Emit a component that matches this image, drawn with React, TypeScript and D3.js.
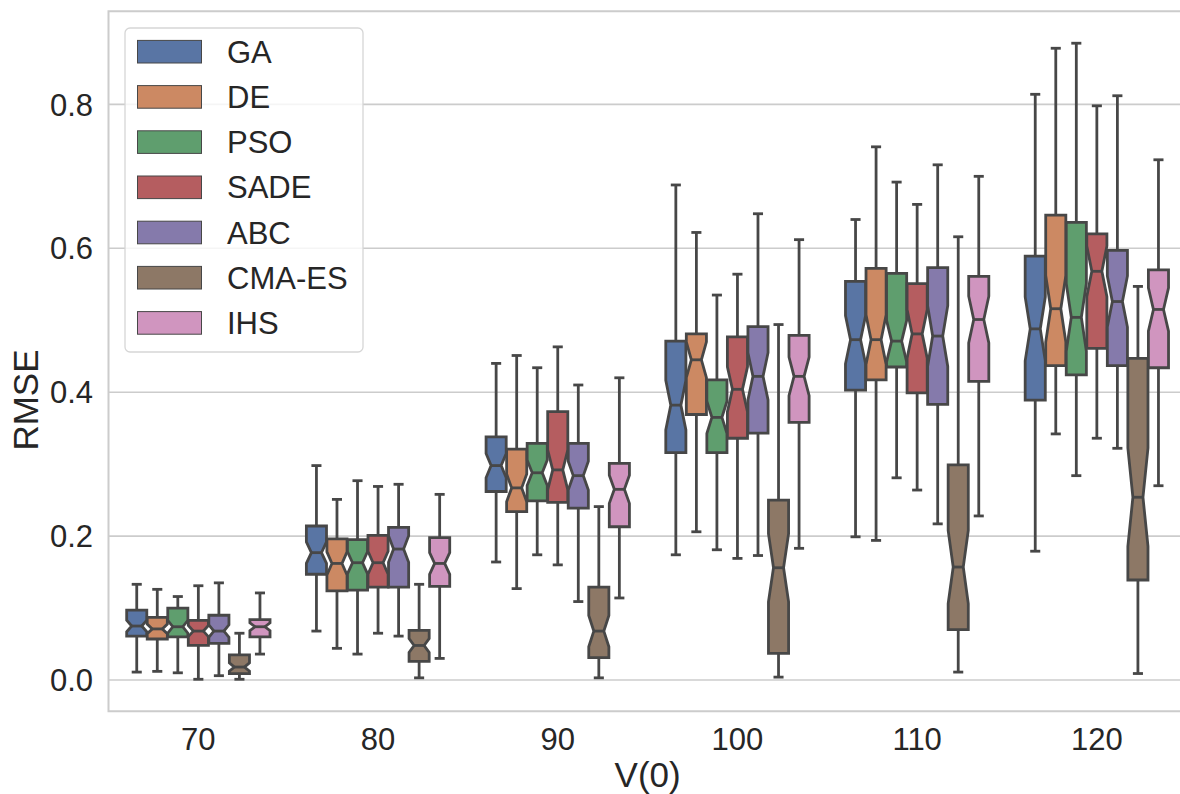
import React, { useRef, useEffect } from 'react';
import * as d3 from 'd3';

// each entry: [whisker low, q1, median, q3, whisker high], one per V(0)
const speeds = ['70', '80', '90', '100', '110', '120'];
const methods = ['GA', 'DE', 'PSO', 'SADE', 'ABC', 'CMA-ES', 'IHS'];
const colors = ['#5975a4', '#cc8963', '#5f9e6e', '#b55d60', '#857aab', '#8d7866', '#d095bf'];
const yTicks = [0, 0.2, 0.4, 0.6, 0.8];

const GA = [
  [0.011, 0.061, 0.075, 0.097, 0.133],
  [0.068, 0.147, 0.177, 0.214, 0.298],
  [0.164, 0.262, 0.298, 0.338, 0.440],
  [0.174, 0.316, 0.382, 0.471, 0.688],
  [0.199, 0.403, 0.473, 0.554, 0.640],
  [0.179, 0.389, 0.488, 0.589, 0.814],
];
const DE = [
  [0.012, 0.057, 0.071, 0.087, 0.126],
  [0.044, 0.124, 0.162, 0.196, 0.251],
  [0.127, 0.234, 0.267, 0.321, 0.451],
  [0.206, 0.369, 0.445, 0.481, 0.622],
  [0.194, 0.417, 0.473, 0.572, 0.741],
  [0.342, 0.437, 0.516, 0.646, 0.878],
];
const PSO = [
  [0.010, 0.060, 0.074, 0.100, 0.116],
  [0.036, 0.125, 0.163, 0.195, 0.277],
  [0.174, 0.249, 0.288, 0.329, 0.434],
  [0.181, 0.316, 0.365, 0.417, 0.535],
  [0.281, 0.435, 0.471, 0.565, 0.692],
  [0.284, 0.424, 0.504, 0.636, 0.885],
];
const SADE = [
  [0.001, 0.048, 0.068, 0.083, 0.131],
  [0.065, 0.129, 0.163, 0.201, 0.269],
  [0.160, 0.247, 0.292, 0.373, 0.463],
  [0.169, 0.336, 0.404, 0.477, 0.564],
  [0.264, 0.399, 0.481, 0.551, 0.661],
  [0.336, 0.461, 0.568, 0.620, 0.798],
];
const ABC = [
  [0.006, 0.051, 0.068, 0.090, 0.135],
  [0.061, 0.129, 0.182, 0.212, 0.272],
  [0.109, 0.239, 0.284, 0.329, 0.410],
  [0.173, 0.343, 0.422, 0.491, 0.648],
  [0.217, 0.383, 0.478, 0.573, 0.716],
  [0.322, 0.437, 0.526, 0.597, 0.812],
];
const CMAES = [
  [0.001, 0.009, 0.018, 0.035, 0.065],
  [0.003, 0.026, 0.048, 0.069, 0.133],
  [0.003, 0.031, 0.068, 0.129, 0.241],
  [0.004, 0.037, 0.156, 0.250, 0.494],
  [0.011, 0.070, 0.157, 0.299, 0.616],
  [0.009, 0.139, 0.254, 0.447, 0.547],
];
const IHS = [
  [0.036, 0.060, 0.074, 0.084, 0.121],
  [0.030, 0.130, 0.162, 0.198, 0.258],
  [0.114, 0.213, 0.265, 0.301, 0.420],
  [0.183, 0.358, 0.422, 0.479, 0.612],
  [0.228, 0.415, 0.501, 0.561, 0.700],
  [0.270, 0.434, 0.515, 0.570, 0.723],
];
const series = [GA, DE, PSO, SADE, ABC, CMAES, IHS];
const SAMPLES = 50; // runs per box, sets the notch size

const W = 1180;
const H = 794;
const LINE = '#474747';
const TEXT = '#262626';
const FONT = '"Liberation Sans", Arial, sans-serif';

const App = () => {
  const ref = useRef<SVGSVGElement>(null);

  useEffect(() => {
    const svg = d3.select(ref.current);
    svg.selectAll('*').remove();

    const left = 108.5, right = 1186.7, top = 11.2, bottom = 711.3;

    const x = d3.scaleBand().domain(speeds).range([left, right]).padding(0);
    const hue = d3.scaleBand()
      .domain(methods)
      .range([-0.4 * x.bandwidth(), 0.4 * x.bandwidth()]);
    const y = d3.scaleLinear().domain([-0.0435, 0.9295]).range([bottom, top]);
    const boxW = hue.bandwidth() * 0.98;

    // grid
    svg.append('g')
      .selectAll('line')
      .data(yTicks)
      .enter()
      .append('line')
      .attr('x1', left).attr('x2', right)
      .attr('y1', d => y(d)).attr('y2', d => y(d))
      .attr('stroke', '#cccccc')
      .attr('stroke-width', 1.6);

    // frame (right side falls outside the picture)
    svg.append('path')
      .attr('d', `M${right},${top}H${left}V${bottom}H${right}`)
      .attr('fill', 'none')
      .attr('stroke', '#cccccc')
      .attr('stroke-width', 2);

    // y tick labels
    svg.append('g')
      .selectAll('text')
      .data(yTicks)
      .enter()
      .append('text')
      .attr('x', 93)
      .attr('y', d => y(d))
      .attr('dy', '0.36em')
      .attr('text-anchor', 'end')
      .attr('font-family', FONT)
      .attr('font-size', 31)
      .attr('fill', TEXT)
      .text(d => d.toFixed(1));

    // x tick labels
    svg.append('g')
      .selectAll('text')
      .data(speeds)
      .enter()
      .append('text')
      .attr('x', d => x(d)! + x.bandwidth() / 2)
      .attr('y', 750)
      .attr('text-anchor', 'middle')
      .attr('font-family', FONT)
      .attr('font-size', 31)
      .attr('fill', TEXT)
      .text(d => d);

    svg.append('text')
      .attr('x', (left + right) / 2)
      .attr('y', 787)
      .attr('text-anchor', 'middle')
      .attr('font-family', FONT)
      .attr('font-size', 35)
      .attr('fill', TEXT)
      .text('V(0)');

    svg.append('text')
      .attr('transform', 'translate(38, 400) rotate(-90)')
      .attr('text-anchor', 'middle')
      .attr('font-family', FONT)
      .attr('font-size', 35)
      .attr('fill', TEXT)
      .text('RMSE');

    // boxes
    const boxes = [];
    series.forEach((s, m) => {
      s.forEach((st, c) => {
        boxes.push({ m, c, st });
      });
    });

    const g = svg.append('g');
    boxes.forEach(({ m, c, st }) => {
      const [lo, q1, med, q3, hi] = st;
      const cx = x(speeds[c])! + x.bandwidth() / 2 + hue(methods[m])! + hue.bandwidth() / 2;
      const bl = cx - boxW / 2, br = cx + boxW / 2;
      const cl = cx - boxW / 4, cr = cx + boxW / 4;
      const ci = 1.57 * (q3 - q1) / Math.sqrt(SAMPLES);
      const ciLo = med - ci, ciHi = med + ci;

      const bg = g.append('g')
        .attr('stroke', LINE)
        .attr('stroke-width', 2.8)
        .attr('fill', 'none');

      // whiskers + caps
      bg.append('line').attr('x1', cx).attr('x2', cx).attr('y1', y(q1)).attr('y2', y(lo));
      bg.append('line').attr('x1', cx).attr('x2', cx).attr('y1', y(q3)).attr('y2', y(hi));
      bg.append('line').attr('x1', cl).attr('x2', cr).attr('y1', y(lo)).attr('y2', y(lo));
      bg.append('line').attr('x1', cl).attr('x2', cr).attr('y1', y(hi)).attr('y2', y(hi));

      const pts: [number, number][] = [
        [bl, q1], [br, q1], [br, ciLo], [cr, med], [br, ciHi], [br, q3],
        [bl, q3], [bl, ciHi], [cl, med], [bl, ciLo],
      ];
      bg.append('path')
        .attr('d', d3.line()(pts.map(p => [p[0], y(p[1])])) + 'Z')
        .attr('fill', colors[m])
        .attr('stroke-linejoin', 'miter');

      bg.append('line').attr('x1', cl).attr('x2', cr).attr('y1', y(med)).attr('y2', y(med));
    });

    // legend
    const lg = svg.append('g');
    lg.append('rect')
      .attr('x', 125).attr('y', 28)
      .attr('width', 238).attr('height', 324)
      .attr('rx', 5)
      .attr('fill', 'white')
      .attr('fill-opacity', 0.8)
      .attr('stroke', '#d6d6d6')
      .attr('stroke-width', 1.3);

    const item = lg.selectAll('g.item')
      .data(methods)
      .enter()
      .append('g')
      .attr('class', 'item')
      .attr('transform', (d, i) => `translate(0, ${51.7 + i * 45.2})`);

    item.append('rect')
      .attr('x', 137.5).attr('y', -11.3)
      .attr('width', 64).attr('height', 22.6)
      .attr('fill', (d, i) => colors[i])
      .attr('stroke', LINE)
      .attr('stroke-width', 1);

    item.append('text')
      .attr('x', 227)
      .attr('dy', '0.36em')
      .attr('font-family', FONT)
      .attr('font-size', 31)
      .attr('fill', TEXT)
      .text(d => d);
  }, []);

  return (
    <svg
      ref={ref}
      width={W}
      height={H}
      style={{ position: 'absolute', left: 0, top: 0, background: 'white' }}
    />
  );
};

export default App;
